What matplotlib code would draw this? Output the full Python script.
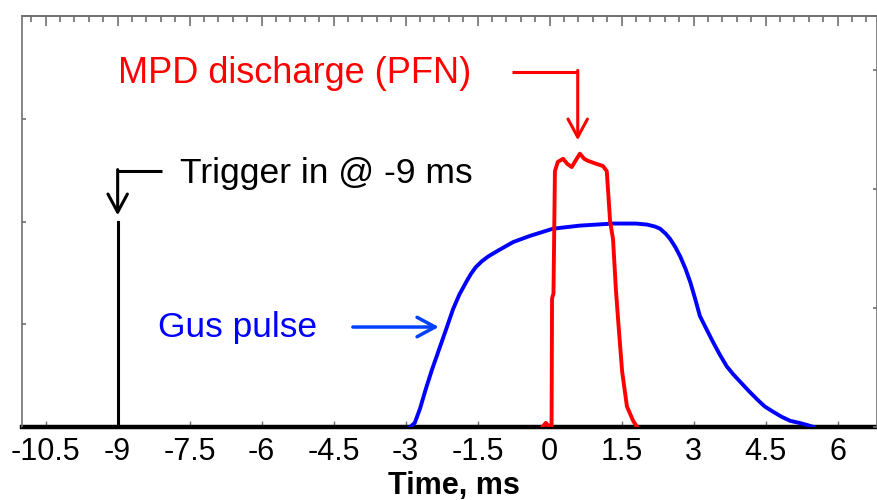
import matplotlib
matplotlib.use("Agg")
import matplotlib.pyplot as plt
from matplotlib.ticker import MultipleLocator, NullFormatter

plt.rcParams['font.family'] = ['Liberation Sans', 'DejaVu Sans']

# ---- data ----
gas_x = [-2.91, -2.81, -2.70, -2.58, -2.45, -2.30, -2.15, -2.01, -1.88, -1.74,
         -1.64, -1.54, -1.42, -1.28, -1.10, -0.76, -0.41, 0.07, 0.63, 1.32,
         1.80, 2.03, 2.20, 2.30, 2.42, 2.51, 2.62, 2.72, 2.83, 2.93, 3.03,
         3.13, 3.27, 3.40, 3.55, 3.69, 3.83, 3.97, 4.15, 4.32, 4.48, 4.65,
         4.83, 5.01, 5.20, 5.36, 5.50]
gas_y = [0.00, 0.04, 0.18, 0.37, 0.56, 0.76, 0.96, 1.15, 1.29, 1.41,
         1.49, 1.555, 1.61, 1.66, 1.71, 1.80, 1.86, 1.93, 1.96, 1.98,
         1.98, 1.97, 1.95, 1.93, 1.88, 1.83, 1.75, 1.66, 1.54, 1.41, 1.25,
         1.08, 0.95, 0.83, 0.70, 0.59, 0.51, 0.44, 0.35, 0.27, 0.20, 0.15,
         0.10, 0.06, 0.04, 0.02, 0.00]

pfn_x = [-0.15, -0.08, 0.00, 0.04, 0.05, 0.08, 0.11, 0.17, 0.28, 0.37, 0.46,
         0.55, 0.63, 0.72, 0.80, 0.98, 1.11, 1.19, 1.26, 1.32, 1.38, 1.43,
         1.51, 1.61, 1.74, 1.82]
pfn_y = [0.00, 0.04, 0.00, 0.00, 1.25, 1.30, 2.49, 2.58, 2.61, 2.56, 2.53,
         2.60, 2.66, 2.61, 2.59, 2.56, 2.54, 2.49, 2.00, 1.83, 1.34, 1.02,
         0.54, 0.20, 0.06, 0.00]

baseline_x = [-11.0, 6.82]
baseline_y = [0.0, 0.0]

trigger_x = [-9.0, -9.0]
trigger_y = [0.0, 2.0]

xticks = [-10.5, -9, -7.5, -6, -4.5, -3, -1.5, 0, 1.5, 3, 4.5, 6]
xtick_labels = ['-10.5', '-9', '-7.5', '-6', '-4.5', '-3', '-1.5', '0', '1.5', '3', '4.5', '6']

# ---- figure ----
fig = plt.figure(figsize=(8.77, 5.0), dpi=100)
ax = fig.add_axes([0.0247, 0.146, 1.0 - 0.0247, 0.968 - 0.146])
ax.set_xlim(-11.0, 6.82)
ax.set_ylim(0, 4)

ax.plot(baseline_x, baseline_y, color='black', lw=3.2, clip_on=False, zorder=2)
ax.plot(trigger_x, trigger_y, color='black', lw=2.2, zorder=3)
ax.plot(gas_x, gas_y, color='#0000ff', lw=2.8, zorder=4, solid_joinstyle='round')
ax.plot(pfn_x, pfn_y, color='#ff0000', lw=2.8, zorder=5, solid_joinstyle='round')

# spines / ticks
grey = '#707070'
for s in ['left', 'top', 'right']:
    ax.spines[s].set_color(grey)
    ax.spines[s].set_linewidth(1.2)
ax.spines['bottom'].set_color('black')

ax.set_xticks(xticks)
ax.set_xticklabels(xtick_labels)
ax.tick_params(axis='x', which='major', direction='in', length=4.5, width=1,
               color=grey, labelsize=22, pad=7, top=False)
ax.set_yticks([0, 1, 2, 3, 4])
ax.yaxis.set_major_formatter(NullFormatter())
ax.tick_params(axis='y', which='major', direction='in', length=3, width=1.2,
               color=grey, left=True, right=False)

sec = ax.secondary_xaxis('top')
sec.set_xticks(xticks)
sec.xaxis.set_minor_locator(MultipleLocator(0.3))
sec.tick_params(axis='x', which='major', direction='in', length=7.5, width=1.2,
                color=grey, labeltop=False)
sec.tick_params(axis='x', which='minor', direction='in', length=4.5, width=1.2,
                color=grey)
sec.spines['top'].set_color(grey)
sec.spines['top'].set_linewidth(1.2)

tw = ax.twinx()
tw.set_ylim(0, 3.45)
tw.set_yticks([0, 1, 2, 3])
tw.yaxis.set_major_formatter(NullFormatter())
tw.tick_params(axis='y', direction='in', length=3, width=1.2, color=grey)
for s in tw.spines.values():
    s.set_visible(False)

ax.set_xlabel('Time, ms', fontsize=22, fontweight='bold')
ax.xaxis.set_label_coords(0.505, -0.107)

# annotations
ax.text(-9.0, 3.35, 'MPD discharge (PFN)', color='#ff0000', fontsize=26,
        va='baseline', ha='left')
ax.plot([-0.79, 0.585], [3.455, 3.455], color='#ff0000', lw=2.2,
        solid_capstyle='butt')
ax.annotate('', xy=(0.585, 2.79), xytext=(0.585, 3.47),
            arrowprops=dict(arrowstyle='->, head_length=0.65, head_width=0.35',
                            color='#ff0000', lw=2.2, mutation_scale=20,
                            shrinkA=0, shrinkB=0))

ax.text(-7.7, 2.375, 'Trigger in @ -9 ms', color='black', fontsize=25.5,
        va='baseline', ha='left')
ax.plot([-8.08, -9.0], [2.49, 2.49], color='black', lw=2.2,
        solid_capstyle='butt')
ax.annotate('', xy=(-9.0, 2.06), xytext=(-9.0, 2.505),
            arrowprops=dict(arrowstyle='->, head_length=0.65, head_width=0.35',
                            color='black', lw=2.2, mutation_scale=20,
                            shrinkA=0, shrinkB=0))

ax.text(-8.16, 0.876, 'Gus pulse', color='#0000ff', fontsize=25.5,
        va='baseline', ha='left')
ax.annotate('', xy=(-2.31, 0.973), xytext=(-4.1, 0.973),
            arrowprops=dict(arrowstyle='->, head_length=0.65, head_width=0.35',
                            color='#0040ff', lw=2.5, mutation_scale=20,
                            shrinkA=0, shrinkB=0))

fig.savefig('out.png', dpi=100)
